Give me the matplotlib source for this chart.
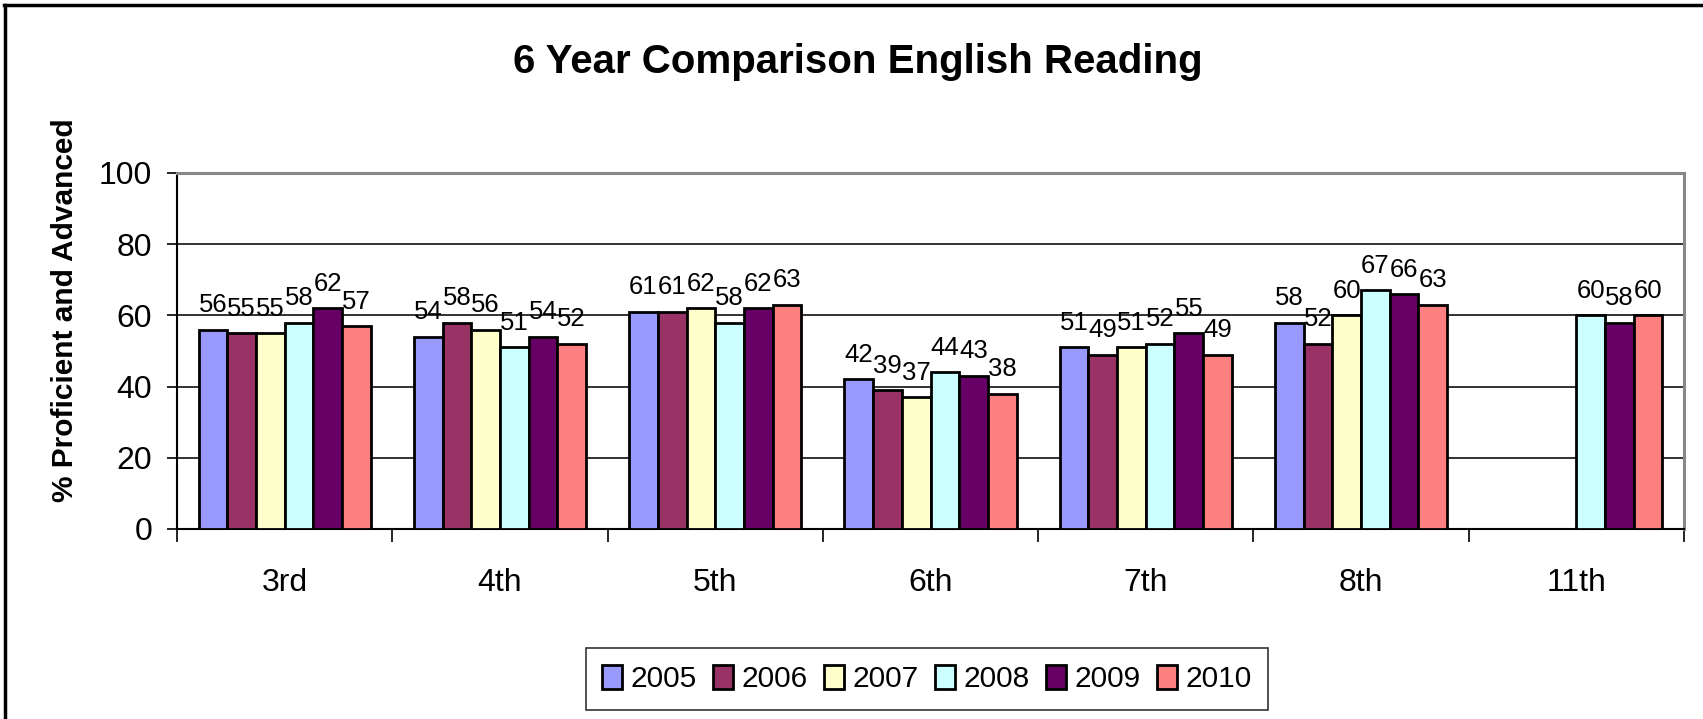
import numpy as np
import matplotlib
matplotlib.use("Agg")
import matplotlib.pyplot as plt
from matplotlib.lines import Line2D

plt.rcParams['font.family'] = ['Liberation Sans', 'DejaVu Sans']

grades = ['3rd', '4th', '5th', '6th', '7th', '8th', '11th']
years = ['2005', '2006', '2007', '2008', '2009', '2010']
v2005 = [56, 54, 61, 42, 51, 58, np.nan]
v2006 = [55, 58, 61, 39, 49, 52, np.nan]
v2007 = [55, 56, 62, 37, 51, 60, np.nan]
v2008 = [58, 51, 58, 44, 52, 67, 60]
v2009 = [62, 54, 62, 43, 55, 66, 58]
v2010 = [57, 52, 63, 38, 49, 63, 60]
series = [v2005, v2006, v2007, v2008, v2009, v2010]
colors = ['#9999FF', '#993366', '#FFFFCC', '#CCFFFF', '#660066', '#FF8080']

W, H = 1703, 719
fig = plt.figure(figsize=(W / 100, H / 100), dpi=100)

# outer chart border (only top and left edges are visible)
fig.add_artist(Line2D([5 / W, 5 / W], [0, 1 - 5 / H], transform=fig.transFigure,
                      color='black', linewidth=2.5))
fig.add_artist(Line2D([4 / W, 1], [1 - 5 / H, 1 - 5 / H], transform=fig.transFigure,
                      color='black', linewidth=2.5))

ax = fig.add_axes([177 / W, 1 - 529 / H, (1684 - 177) / W, (529 - 173) / H])

x = np.arange(len(grades))
n = len(series)
w = 0.1333
for i, (vals, c, yr) in enumerate(zip(series, colors, years)):
    pos = x + (i - (n - 1) / 2) * w
    bars = ax.bar(pos, vals, w, color=c, edgecolor='black', linewidth=2,
                  label=yr, zorder=3)
    labels = ['' if np.isnan(v) else '%d' % v for v in vals]
    ax.bar_label(bars, labels=labels, padding=9, fontsize=18.5)

ax.set_xlim(-0.5, len(grades) - 0.5)
ax.set_ylim(0, 100)
ax.set_yticks([0, 20, 40, 60, 80, 100])
ax.tick_params(axis='y', labelsize=23, length=7, width=1.2, pad=11)
ax.grid(axis='y', color='#222222', linewidth=1.3, zorder=0)

ax.set_xticks(np.arange(len(grades) + 1) - 0.5)
ax.set_xticklabels([])
ax.tick_params(axis='x', which='major', length=9, width=1.2)
ax.set_xticks(x, minor=True)
ax.set_xticklabels(grades, minor=True, fontsize=23)
ax.tick_params(axis='x', which='minor', length=0, pad=28)

ax.spines['left'].set_linewidth(1.5)
ax.spines['bottom'].set_linewidth(1.5)
for s in ['top', 'right']:
    ax.spines[s].set_color('#888888')
    ax.spines[s].set_linewidth(2.2)

fig.text(65 / W, 1 - 310 / H, '% Proficient and Advanced', rotation=90,
         ha='center', va='center', fontsize=21.5, fontweight='bold')

fig.text(858 / W, 1 - 62 / H, '6 Year Comparison English Reading',
         ha='center', va='center', fontsize=29, fontweight='bold')

leg = fig.legend(loc='center', bbox_to_anchor=(927 / W, 1 - 679 / H), ncol=6,
                 fontsize=21.5, frameon=True, fancybox=False, edgecolor='black',
                 handlelength=0.65, handleheight=0.9, handletextpad=0.3,
                 columnspacing=0.55, borderpad=0.55, borderaxespad=0)
leg.get_frame().set_linewidth(1.2)

fig.savefig('out.png', dpi=100)
